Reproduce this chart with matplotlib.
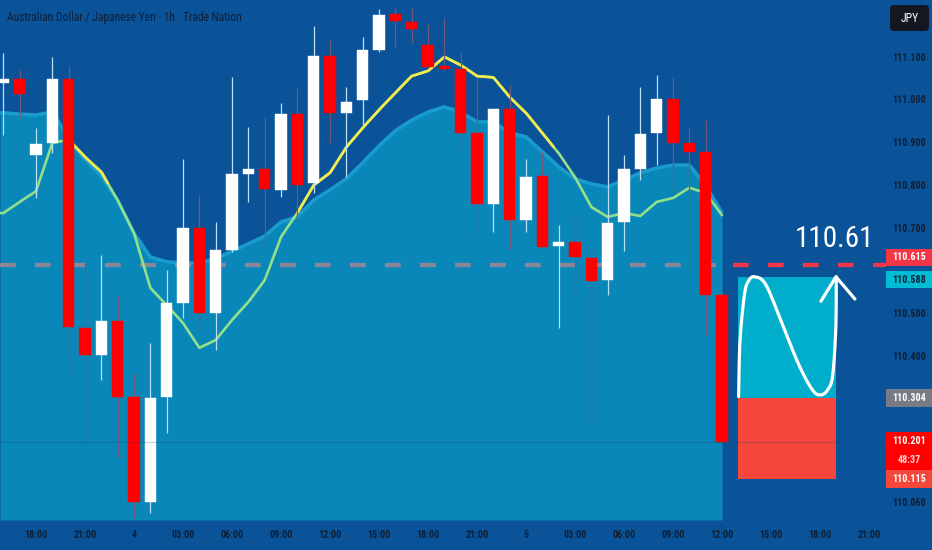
import numpy as np
import matplotlib
matplotlib.use("Agg")
import matplotlib.pyplot as plt
from matplotlib import font_manager
from matplotlib.patches import Rectangle, FancyBboxPatch
from matplotlib.transforms import blended_transform_factory, IdentityTransform

# ---------------- data ----------------
TITLE = "Australian Dollar / Japanese Yen · 1h · Trade Nation"
CURRENCY = "JPY"
FIRST_HOUR = -2  # first candle is 16:00, hour 0 = 18:00

X_TICK_HOURS = list(range(0, 52, 3))
X_LABELS = ["18:00", "21:00", "4", "03:00", "06:00", "09:00", "12:00", "15:00",
            "18:00", "21:00", "5", "03:00", "06:00", "09:00", "12:00", "15:00",
            "18:00", "21:00"]

OPEN = [111.041, 111.050, 110.873, 110.901, 111.050, 110.468, 110.405, 110.485,
        110.307, 110.062, 110.307, 110.527, 110.702, 110.503, 110.651, 110.828,
        110.840, 110.791, 110.968, 110.807, 111.104, 110.971, 111.001, 111.118,
        111.202, 111.183, 111.130, 111.081, 111.074, 110.924, 110.758, 110.980,
        110.721, 110.824, 110.660, 110.669, 110.632, 110.580, 110.716, 110.840,
        110.924, 111.003, 110.901, 110.880, 110.545]
HIGH = [111.111, 111.071, 110.936, 111.102, 111.081, 110.620, 110.639, 110.543,
        110.363, 110.433, 110.604, 110.863, 110.779, 110.716, 111.055, 110.938,
        110.961, 110.994, 111.029, 111.174, 111.144, 111.032, 111.148, 111.214,
        111.216, 111.216, 111.179, 111.193, 111.113, 111.053, 110.980, 111.036,
        110.863, 110.880, 110.709, 110.742, 110.655, 110.966, 110.873, 111.032,
        111.060, 111.055, 110.936, 110.954, 110.552]
LOW = [110.919, 110.961, 110.772, 110.877, 110.358, 110.195, 110.347, 110.164,
       110.025, 110.036, 110.223, 110.492, 110.459, 110.417, 110.646, 110.763,
       110.658, 110.774, 110.714, 110.784, 110.901, 110.821, 110.943, 111.113,
       111.125, 111.134, 111.076, 111.071, 110.884, 110.686, 110.693, 110.653,
       110.693, 110.655, 110.468, 110.550, 110.235, 110.545, 110.648, 110.814,
       110.849, 110.779, 110.599, 110.452, 110.201]
CLOSE = [111.050, 111.015, 110.898, 111.050, 110.471, 110.405, 110.485, 110.307,
         110.062, 110.305, 110.527, 110.702, 110.503, 110.651, 110.828, 110.840,
         110.793, 110.968, 110.802, 111.104, 110.971, 110.996, 111.118, 111.200,
         111.186, 111.167, 111.078, 111.074, 110.924, 110.758, 110.980, 110.721,
         110.821, 110.658, 110.669, 110.634, 110.578, 110.714, 110.840, 110.922,
         111.003, 110.901, 110.880, 110.545, 110.201]

# upper edge of the shaded cloud area
BAND = [110.971, 110.968, 110.966, 110.973, 110.912, 110.861, 110.823, 110.767,
        110.690, 110.634, 110.623, 110.620, 110.620, 110.630, 110.648, 110.665,
        110.683, 110.716, 110.728, 110.767, 110.791, 110.817, 110.854, 110.894,
        110.929, 110.954, 110.973, 110.985, 110.973, 110.950, 110.950, 110.924,
        110.915, 110.880, 110.845, 110.817, 110.805, 110.798, 110.814, 110.831,
        110.842, 110.849, 110.849, 110.802, 110.737]
# moving average line
MA = [110.737, 110.763, 110.788, 110.901, 110.908, 110.868, 110.833, 110.767,
      110.690, 110.562, 110.522, 110.480, 110.422, 110.440, 110.487, 110.529,
      110.580, 110.681, 110.737, 110.802, 110.831, 110.891, 110.936, 110.978,
      111.018, 111.057, 111.069, 111.102, 111.083, 111.057, 111.054, 111.008,
      110.971, 110.924, 110.877, 110.821, 110.751, 110.728, 110.737, 110.730,
      110.763, 110.772, 110.796, 110.784, 110.732]
MA_YELLOW_SPANS = [(2.3, 4.4), (16.0, 31.7)]

Y_TICKS = [111.100, 111.000, 110.900, 110.800, 110.700, 110.500, 110.400, 110.060]

LEVEL = 110.615
BIG_LABEL = "110.61"
TARGET = 110.588
ENTRY = 110.304
STOP = 110.115
LAST = 110.201
COUNTDOWN = "48:37"
BOX_HOURS = (43, 49)

DRAW_X = [43.02, 43.10, 43.37, 43.62, 44.00, 44.69, 45.72, 46.71, 47.55, 48.06,
          48.49, 48.78, 48.97, 49.00]
DRAW_Y = [110.308, 110.436, 110.545, 110.578, 110.588, 110.569, 110.475, 110.382,
          110.323, 110.312, 110.325, 110.358, 110.470, 110.588]
ARROW_X = [48.06, 48.98, 50.14]
ARROW_Y = [110.531, 110.588, 110.536]

# ---------------- style ----------------
BG = "#0a5399"
FILL = "#0987b9"
EDGE = "#1a9bcd"
UP = "#ffffff"
DOWN = "#ff0000"
UP_WICK = "#b9def6"
DOWN_WICK = "#6f5a7c"
GREEN = "#93e08a"
YELLOW = "#f3ea4b"
TEXT_DARK = "#0e1f36"

names = {f.name for f in font_manager.fontManager.ttflist}
FONT = "DejaVu Sans"
for cand in ["Liberation Sans Narrow", "Roboto Condensed", "Open Sans Condensed",
             "Liberation Sans"]:
    if cand in names:
        FONT = cand
        break
plt.rcParams["font.family"] = [FONT, "DejaVu Sans"]
plt.rcParams["lines.scale_dashes"] = False

W, H = 932, 550
fig = plt.figure(figsize=(W / 100, H / 100), dpi=100, facecolor=BG)
AX_R = 886
AX_B = 520
ax = fig.add_axes([0, (H - AX_B) / H, AX_R / W, AX_B / H])
ax.set_facecolor(BG)
for s in ax.spines.values():
    s.set_visible(False)

px_per_hour = 16.333
x_left = -36 / px_per_hour
x_right = (AX_R - 36) / px_per_hour
ppu = 427.9  # pixels per price unit
y_top = 111.1 + 57.7 / ppu
y_bot = 111.1 - (AX_B - 57.7) / ppu
ax.set_xlim(x_left, x_right)
ax.set_ylim(y_bot, y_top)

hours = np.arange(len(OPEN)) + FIRST_HOUR
o = np.array(OPEN); h = np.array(HIGH); l = np.array(LOW); c = np.array(CLOSE)
band = np.array(BAND); ma = np.array(MA)

# cloud area
bx = np.r_[x_left, hours]
by = np.r_[band[0], band]
ax.fill_between(bx, by, y_bot, color=FILL, lw=0, zorder=1)
ax.plot(bx, by, color=EDGE, lw=2.6, zorder=1.5, solid_capstyle="butt")

# level dashed line: muted over history, red on the right
ax.plot([x_left, hours[-1]], [LEVEL, LEVEL], color="#8b8799", lw=3.1,
        linestyle=(0, (11.3, 13.9)), zorder=2)
ax.plot([hours[-1], x_right], [LEVEL, LEVEL], color="#f23645", lw=3.1,
        linestyle=(17.3, (11.3, 13.9)), zorder=2)

# moving average line, coloured by span
xs = np.linspace(x_left, hours[-1], 3000)
ys = np.interp(xs, hours, ma)
ax.plot(xs, ys, color=GREEN, lw=1.9, zorder=2.5, solid_capstyle="round")
mask = np.zeros_like(xs, dtype=bool)
for a, b in MA_YELLOW_SPANS:
    mask |= (xs >= a) & (xs <= b)
ax.plot(xs, np.where(mask, ys, np.nan), color=YELLOW, lw=1.9, zorder=2.6,
        solid_capstyle="round")

# candles
up = c >= o
ax.vlines(hours[up], l[up], h[up], color=UP_WICK, lw=0.9, zorder=3)
ax.vlines(hours[~up], l[~up], h[~up], color=DOWN_WICK, lw=0.9, zorder=3)
bottoms = np.minimum(o, c)
heights = np.maximum(np.abs(c - o), 0.004)
ax.bar(hours[up], heights[up], bottom=bottoms[up], width=0.7, color=UP,
       edgecolor=UP, lw=0.3, zorder=4)
ax.bar(hours[~up], heights[~up], bottom=bottoms[~up], width=0.7, color=DOWN,
       edgecolor=DOWN, lw=0.3, zorder=4)

# position boxes
ax.add_patch(Rectangle((BOX_HOURS[0], ENTRY), BOX_HOURS[1] - BOX_HOURS[0],
                       TARGET - ENTRY, color="#00adca", lw=0, zorder=3))
ax.add_patch(Rectangle((BOX_HOURS[0], STOP), BOX_HOURS[1] - BOX_HOURS[0],
                       ENTRY - STOP, color="#f4463a", lw=0, zorder=3))

# current price line
ax.axhline(LAST, color="#1d3f6a", alpha=0.25, lw=0.9, zorder=4.5)

# hand-drawn path
def catmull_rom(xv, yv, n=24):
    P = np.column_stack([xv, yv])
    P = np.vstack([P[0], P, P[-1]])
    out = []
    t = np.linspace(0, 1, n, endpoint=False)[:, None]
    for i in range(1, len(P) - 2):
        p0, p1, p2, p3 = P[i - 1], P[i], P[i + 1], P[i + 2]
        out.append(0.5 * ((2 * p1) + (-p0 + p2) * t
                          + (2 * p0 - 5 * p1 + 4 * p2 - p3) * t ** 2
                          + (-p0 + 3 * p1 - 3 * p2 + p3) * t ** 3))
    out.append(P[-2][None, :])
    return np.vstack(out)

path = catmull_rom(DRAW_X, DRAW_Y)
ax.plot(path[:, 0], path[:, 1], color="white", lw=2.3, zorder=6,
        solid_capstyle="round", solid_joinstyle="round")
ax.plot(ARROW_X, ARROW_Y, color="white", lw=2.3, zorder=6,
        solid_capstyle="round", solid_joinstyle="round")

# big level text
big = ax.text(48.86, 110.677, BIG_LABEL, color="white", fontsize=24,
              ha="center", va="center", zorder=7)

# x axis labels
ax.set_xticks(X_TICK_HOURS)
ax.set_xticklabels(X_LABELS, fontweight="bold")
ax.tick_params(axis="x", length=0, pad=7, labelsize=8, labelcolor=TEXT_DARK)
ax.set_yticks([])

# right price scale
tr = blended_transform_factory(ax.transAxes, ax.transData)
lab_x = 909 / AX_R
ytexts = []
for v in Y_TICKS:
    ytexts.append(ax.text(lab_x, v, f"{v:.3f}", transform=tr, ha="center",
                          va="center", color=TEXT_DARK, fontsize=8,
                          fontweight="bold", clip_on=False, zorder=8))

box_w = (W - AX_R) / AX_R
def price_tag(center, height, face, lines, colors, zorder=9):
    ax.add_patch(Rectangle((1.0, center - height / 2), box_w, height,
                           transform=tr, facecolor=face, lw=0,
                           clip_on=False, zorder=zorder))
    n = len(lines)
    out = []
    step = height / n
    for k, (txt, col) in enumerate(zip(lines, colors)):
        yy = center + height / 2 - step * (k + 0.5)
        out.append(ax.text(lab_x, yy, txt, transform=tr, ha="center",
                           va="center", color=col, fontsize=8,
                           fontweight="bold", clip_on=False,
                           zorder=zorder + 0.5))
    return out

tag_h = 17 / ppu
tags = []
tags += price_tag(LEVEL + 8 / ppu, tag_h, "#f23645", [f"{LEVEL:.3f}"], ["white"])
tags += price_tag(TARGET - 3 / ppu, tag_h, "#00bcd4", [f"{TARGET:.3f}"], ["#0b2236"])
tags += price_tag(ENTRY, 18 / ppu, "#787b86", [f"{ENTRY:.3f}"], ["white"])
tags += price_tag(LAST - 8.5 / ppu, 37.6 / ppu, "#ff0000",
                  [f"{LAST:.3f}", COUNTDOWN], ["white", "#ffd9d9"])
tags += price_tag(STOP, 17.7 / ppu, "#f4463a", [f"{STOP:.3f}"], ["white"])

# currency badge
fig.patches.append(FancyBboxPatch((890, H - 31), 39, 26,
                                  boxstyle="round,pad=0,rounding_size=4",
                                  transform=IdentityTransform(),
                                  facecolor="#131722", edgecolor="none",
                                  figure=fig))
jpy = fig.text(909.5 / W, 1 - 18 / H, CURRENCY, color="white", fontsize=8.5,
               ha="center", va="center")

# title
title = fig.text(7 / W, 1 - 18 / H, TITLE, color=TEXT_DARK, fontsize=9,
                 ha="left", va="center")

# fit text widths to the reference
fig.canvas.draw()
r = fig.canvas.get_renderer()
def fit(t, target):
    w = t.get_window_extent(r).width
    if w > 0:
        t.set_fontsize(t.get_fontsize() * target / w)
fit(title, 236)
fit(big, 80)
size_y = ytexts[0].get_fontsize() * 33 / ytexts[0].get_window_extent(r).width
for t in ytexts + tags:
    t.set_fontsize(size_y)
xl = ax.get_xticklabels()[0]
size_x = xl.get_fontsize() * 23 / xl.get_window_extent(r).width
ax.tick_params(axis="x", labelsize=size_x)

fig.savefig("out.png", dpi=100, facecolor=BG)
